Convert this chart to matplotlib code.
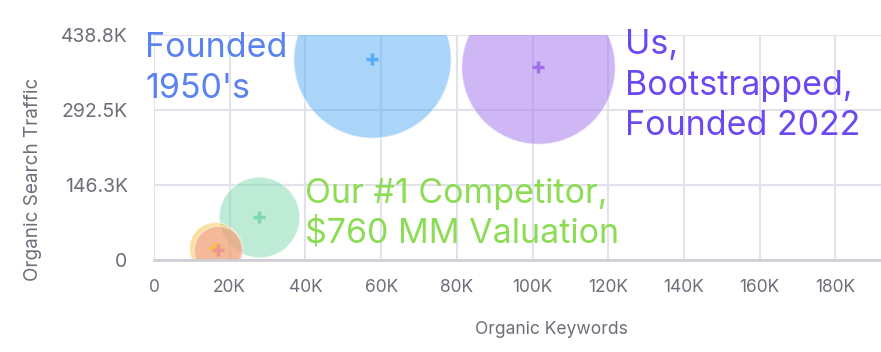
import matplotlib
matplotlib.use("Agg")
import matplotlib.pyplot as plt

# Data
companies = ["Founded 1950's", "Us, Bootstrapped", "Our #1 Competitor", "Other A", "Other B"]
keywords = [57700, 101500, 27800, 16200, 16800]
traffic = [392000, 376000, 84500, 24000, 19500]
bubble_z = [100, 97.6, 51.2, 33.0, 31.0]

x_ticks = [0, 20000, 40000, 60000, 80000, 100000, 120000, 140000, 160000, 180000]
x_tick_labels = ["0", "20K", "40K", "60K", "80K", "100K", "120K", "140K", "160K", "180K"]
y_ticks = [0, 146300, 292500, 438800]
y_tick_labels = ["0", "146.3K", "292.5K", "438.8K"]

colors = ["#56adf5", "#a171ed", "#7dd9ad", "#f8c03c", "#ee9496"]

plt.rcParams["font.family"] = ["Inter", "DejaVu Sans"]

W, H = 881, 352
fig = plt.figure(figsize=(W / 100, H / 100), dpi=100)
# plot area in pixels: left 154, right 949 (runs off the image), top 35, bottom 260
ax = fig.add_axes([154 / W, (H - 260) / H, 795 / W, 225 / H])

ax.set_xlim(0, 210000)
ax.set_ylim(0, 438800)

# bubble radius in pixels, largest ~79px
max_r = 78.7
for xk, yt, z, c in zip(keywords, traffic, bubble_z, colors):
    r = z / max(bubble_z) * max_r
    s = (2 * r * 72 / 100) ** 2
    ax.scatter([xk], [yt], s=s, color=c, alpha=0.5, edgecolors="white",
               linewidths=1, zorder=3)
    ax.scatter([xk], [yt], s=70, marker="+", color=c, linewidths=2.5, zorder=4)

ax.set_xticks(x_ticks)
ax.set_xticklabels(x_tick_labels)
ax.set_yticks(y_ticks)
ax.set_yticklabels(y_tick_labels)
ax.tick_params(axis="both", length=0, colors="#6e6e7a")
ax.tick_params(axis="x", labelsize=12.5, pad=14)
ax.tick_params(axis="y", labelsize=14, pad=19)

ax.grid(True, color="#e2e2ea", linewidth=1.5, zorder=0)
ax.set_axisbelow(True)
for side in ["top", "right", "left"]:
    ax.spines[side].set_visible(False)
ax.spines["bottom"].set_color("#cfcfd6")
ax.spines["bottom"].set_linewidth(2)
ax.spines["bottom"].set_zorder(5)

# axis titles
fig.text(551.7 / W, (H - 334) / H, "Organic Keywords", ha="center", va="baseline",
         fontsize=12.6, color="#6e6e7a")
fig.text(33.5 / W, (H - 179) / H, "Organic Search Traffic", ha="center", va="center",
         rotation=90, fontsize=13.6, color="#6e6e7a")

# annotations (last-line baselines in pixels)
fig.text(145 / W, (H - 98) / H, "Founded\n1950's", ha="left", va="baseline",
         fontsize=24.5, color="#5a82f0", linespacing=1.36)
fig.text(625 / W, (H - 135) / H, "Us,\nBootstrapped,\nFounded 2022", ha="left",
         va="baseline", fontsize=24.5, color="#6b48f2", linespacing=1.33)
fig.text(305 / W, (H - 243) / H, "Our #1 Competitor,\n$760 MM Valuation", ha="left",
         va="baseline", fontsize=24.5, color="#8ddc55", linespacing=1.3)

fig.savefig("out.png", dpi=100)
